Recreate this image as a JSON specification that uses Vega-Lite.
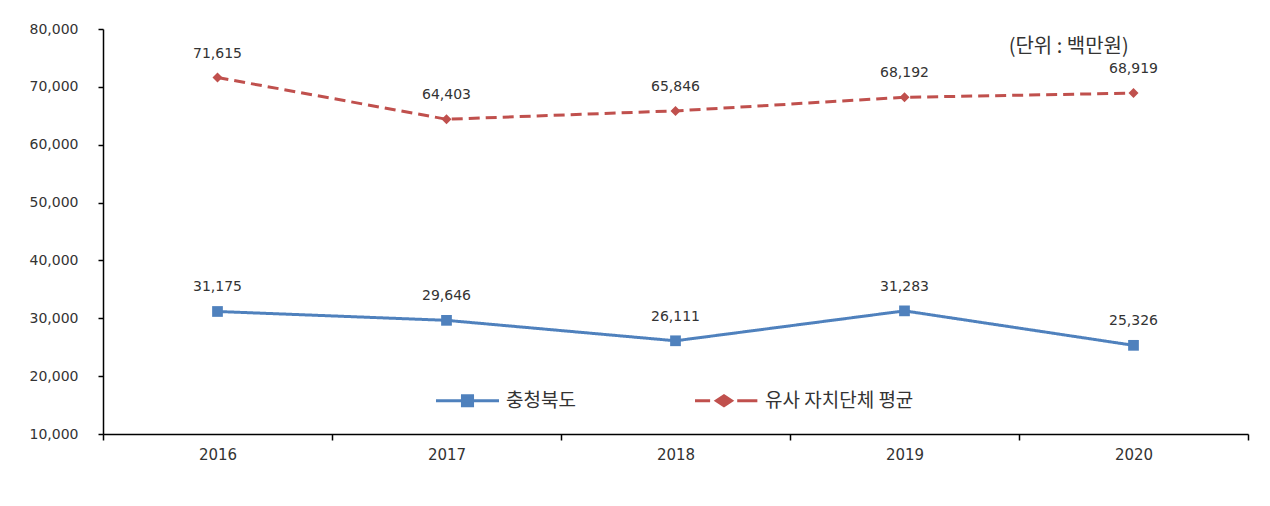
{
  "$schema": "https://vega.github.io/schema/vega-lite/v6.json",
  "width": 1145,
  "height": 405,
  "autosize": {"type": "none"},
  "padding": {"left": 103, "top": 29, "right": 22, "bottom": 72},
  "background": "white",
  "config": {
    "view": {"stroke": null},
    "font": "Noto Sans CJK KR",
    "axis": {"labelFont": "DejaVu Sans", "labelColor": "#333333", "labelFontSize": 14, "domainColor": "#000000", "tickColor": "#000000", "domainWidth": 1.5, "tickWidth": 1.5, "grid": false, "title": null}
  },
  "title": {"text": "(단위 : 백만원)", "anchor": "end", "orient": "top", "offset": -35, "dx": -120, "fontSize": 20, "fontWeight": "normal", "color": "#333333", "font": "Noto Sans CJK KR"},
  "data": {"values": [
    {"year": "2016", "series": "충청북도", "value": 31175},
    {"year": "2017", "series": "충청북도", "value": 29646},
    {"year": "2018", "series": "충청북도", "value": 26111},
    {"year": "2019", "series": "충청북도", "value": 31283},
    {"year": "2020", "series": "충청북도", "value": 25326},
    {"year": "2016", "series": "유사 자치단체 평균", "value": 71615},
    {"year": "2017", "series": "유사 자치단체 평균", "value": 64403},
    {"year": "2018", "series": "유사 자치단체 평균", "value": 65846},
    {"year": "2019", "series": "유사 자치단체 평균", "value": 68192},
    {"year": "2020", "series": "유사 자치단체 평균", "value": 68919}
  ]},
  "encoding": {
    "x": {"field": "year", "type": "ordinal", "scale": {"type": "band", "paddingInner": 0, "paddingOuter": 0},
      "axis": {"labelAngle": 0, "tickBand": "extent", "tickSize": 6, "labelPadding": 7, "labelFontSize": 15}},
    "y": {"field": "value", "type": "quantitative", "scale": {"domain": [10000, 80000], "nice": false, "zero": false},
      "axis": {"values": [10000, 20000, 30000, 40000, 50000, 60000, 70000, 80000], "format": ",.0f", "tickSize": 5, "labelPadding": 20}},
    "color": {"field": "series", "type": "nominal",
      "scale": {"domain": ["충청북도", "유사 자치단체 평균"], "range": ["#4F81BD", "#C0504D"]},
      "legend": {"orient": "none", "legendX": 331, "legendY": 338, "direction": "horizontal", "title": null,
        "labelFont": "Noto Sans CJK KR", "labelFontSize": 19, "labelColor": "#333333", "labelLimit": 400,
        "columnPadding": 112, "symbolSize": 3970, "symbolStrokeWidth": 3, "labelOffset": 5,
        "symbolType": "M-1,0H1",
        "encode": {"symbols": {"update": {
          "shape": {"signal": "datum.value === '충청북도' ? 'M-1,0H1M-0.16,-0.16H0.16V0.16H-0.16Z' : 'M-1,0H-0.52M-0.08,-0.16L0.16,0L-0.08,0.16L-0.32,0ZM0.34,0H0.98'"},
          "fill": {"signal": "datum.value === '충청북도' ? '#4F81BD' : '#C0504D'"},
          "fillOpacity": {"value": 1},
          "strokeDash": {"value": []}
        }}}}
    }
  },
  "layer": [
    {"mark": {"type": "line", "strokeWidth": 3},
     "encoding": {"strokeDash": {"condition": {"test": "datum.series === '충청북도'", "value": [1, 0]}, "value": [11, 6]}}},
    {"mark": {"type": "point", "filled": true, "opacity": 1},
     "encoding": {
       "shape": {"condition": {"test": "datum.series === '충청북도'", "value": "square"}, "value": "diamond"},
       "size": {"condition": {"test": "datum.series === '충청북도'", "value": 115}, "value": 100}
     }},
    {"mark": {"type": "text", "dy": -24, "fontSize": 14, "font": "DejaVu Sans"},
     "encoding": {"text": {"field": "value", "type": "quantitative", "format": ",.0f"}, "color": {"value": "#333333"}}}
  ]
}
